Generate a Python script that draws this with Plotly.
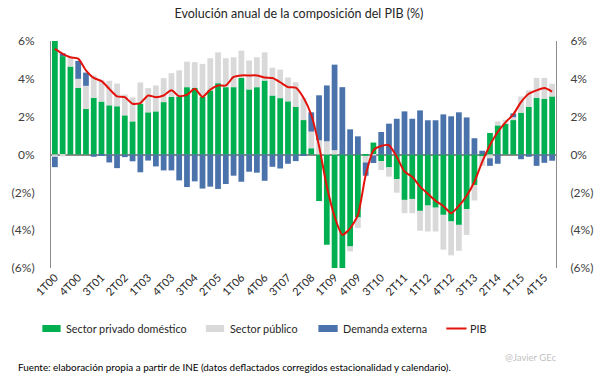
import plotly.graph_objects as go

# Quarters 1T00 .. 1T16
quarters = ["1T00","2T00","3T00","4T00","1T01","2T01","3T01","4T01","1T02","2T02","3T02","4T02",
            "1T03","2T03","3T03","4T03","1T04","2T04","3T04","4T04","1T05","2T05","3T05","4T05",
            "1T06","2T06","3T06","4T06","1T07","2T07","3T07","4T07","1T08","2T08","3T08","4T08",
            "1T09","2T09","3T09","4T09","1T10","2T10","3T10","4T10","1T11","2T11","3T11","4T11",
            "1T12","2T12","3T12","4T12","1T13","2T13","3T13","4T13","1T14","2T14","3T14","4T14",
            "1T15","2T15","3T15","4T15","1T16"]

tick_labels = ["1T00","4T00","3T01","2T02","1T03","4T03","3T04","2T05","1T06","4T06","3T07",
               "2T08","1T09","4T09","3T10","2T11","1T12","4T12","3T13","2T14","1T15","4T15"]

privado = [6.3, 5.2, 4.65, 3.52, 2.41, 3.0, 2.8, 2.6, 2.55, 2.07, 1.75, 2.68,
           2.23, 2.28, 2.77, 3.04, 3.07, 3.56, 3.53, 3.04, 3.39, 3.77, 3.56, 3.56,
           4.05, 3.44, 3.56, 3.91, 3.12, 2.98, 2.81, 2.51, 1.82, 0.33, -2.46, -4.77,
           -8.0, -7.8, -4.86, -3.33, -0.07, 0.63, -0.35, -0.68, -1.3, -2.4, -2.35, -2.98,
           -2.7, -2.81, -3.19, -3.54, -3.72, -2.88, -1.61, -0.1, 1.14, 1.54, 1.62, 1.82,
           2.21, 2.51, 3.0, 2.95, 3.07]

publico = [-0.12, -0.1, 0.5, 0.48, 1.22, 1.18, 1.15, 1.3, 1.2, 1.1, 1.27, 1.13,
           1.28, 1.37, 1.27, 1.26, 1.38, 1.35, 1.35, 1.75, 1.7, 1.63, 1.53, 1.58,
           1.44, 1.53, 1.58, 1.49, 1.47, 1.51, 1.26, 1.31, 1.18, 0.88, 0.75, 0.7,
           0.23, 0.0, -0.26, -0.56, -0.35, -0.05, -0.47, -0.49, -0.72, -0.7, -0.75, -1.05,
           -1.37, -1.26, -1.84, -1.79, -1.37, -1.37, -0.82, -0.5, -0.2, 0.21, 0.22, 0.15,
           0.86, 0.88, 1.05, 1.1, 0.67]

externa = [-0.55, 0.15, 0.0, 0.95, 0.7, -0.12, -0.05, -0.42, -0.72, -0.14, -0.36, -0.94,
           -0.32, -0.63, -0.84, -0.84, -1.37, -1.72, -1.42, -1.8, -1.7, -1.82, -1.56, -1.12,
           -1.44, -0.91, -0.96, -1.39, -0.65, -0.74, -0.49, -0.35, -0.08, 1.02, 2.38, 2.95,
           4.52, 3.56, 1.33, 0.96, -0.7, -0.4, 1.19, 1.63, 1.89, 2.28, 1.89, 2.33,
           1.81, 1.81, 2.12, 2.02, 2.23, 1.96, 0.86, 0.2, -0.4, -0.49, 0.0, 0.2,
           -0.25, -0.12, -0.6, -0.44, -0.33]

pib = [5.58, 5.32, 5.14, 5.07, 4.45, 4.05, 3.88, 3.47, 3.07, 3.03, 2.68, 2.72,
       3.12, 3.03, 3.12, 3.39, 3.08, 3.16, 3.47, 3.04, 3.43, 3.65, 3.65, 4.1,
       4.18, 4.18, 4.18, 4.07, 4.04, 3.82, 3.56, 3.53, 3.0, 2.1, 0.45, -1.68,
       -3.28, -4.25, -3.9, -3.2, -1.1, 0.22, 0.45, 0.49, -0.12, -0.9, -1.18, -1.7,
       -2.08, -2.45, -2.72, -3.1, -2.72, -2.18, -1.44, -0.39, 0.49, 1.19, 1.7, 2.12,
       2.77, 3.21, 3.39, 3.51, 3.33]

y_ticks = [6, 4, 2, 0, -2, -4, -6]
y_ticktext = ["6%", "4%", "2%", "0%", "(2%)", "(4%)", "(6%)"]

series_names = ["Sector privado doméstico", "Sector público", "Demanda externa", "PIB"]
series_colors = ["#00B050", "#D9D9D9", "#4A72AB", "#E3120B"]

FONT = "Lato"
AX_COLOR = "#8c8c8c"
W, H = 605, 378
L, R, T, B = 40, 40, 41, 110
PW, PH = W - L - R, H - T - B


def px(x):
    return (x - L) / PW


def py(y):
    return (H - B - y) / PH


fig = go.Figure()
for name, vals, col in zip(series_names[:3], [privado, publico, externa], series_colors[:3]):
    fig.add_trace(go.Bar(x=quarters, y=vals, name=name,
                         marker=dict(color=col, line=dict(width=0))))
fig.add_trace(go.Scatter(x=quarters, y=pib, name=series_names[3], mode="lines", yaxis="y2",
                         line=dict(color=series_colors[3], width=2, shape="spline", smoothing=0.6)))

yax = dict(range=[-6, 6], tickvals=y_ticks, ticktext=y_ticktext, showgrid=False,
           showline=True, linecolor=AX_COLOR, linewidth=1, ticks="",
           tickfont=dict(family=FONT, size=12, color="#404040"))

# manual legend (swatches + labels)
shapes = []
annotations = []
leg_y = 328.5
swatch_x = [(31, 50), (201, 220), (318, 338)]
text_x = [53, 224, 341, 474]
for (x0, x1), col in zip(swatch_x, series_colors[:3]):
    shapes.append(dict(type="rect", xref="paper", yref="paper",
                       x0=px(x0), x1=px(x1), y0=py(leg_y + 3.5), y1=py(leg_y - 3.5),
                       fillcolor=col, line=dict(width=0)))
shapes.append(dict(type="line", xref="paper", yref="paper",
                   x0=px(451), x1=px(472), y0=py(leg_y), y1=py(leg_y),
                   line=dict(color=series_colors[3], width=2)))
for name, tx in zip(series_names, text_x):
    annotations.append(dict(text=name, xref="paper", yref="paper", x=px(tx), y=py(leg_y),
                            xanchor="left", yanchor="middle", showarrow=False,
                            font=dict(family=FONT, size=10.8, color="#262626")))

annotations.append(dict(
    text="Fuente: elaboración propia a partir de INE (datos deflactados corregidos estacionalidad y calendario).",
    xref="paper", yref="paper", x=px(4), y=py(367), xanchor="left", yanchor="middle",
    showarrow=False, font=dict(family=FONT, size=9.9, color="#000000")))
annotations.append(dict(
    text="@Javier GEc", xref="paper", yref="paper", x=px(538), y=py(357),
    xanchor="center", yanchor="middle", showarrow=False,
    font=dict(family=FONT, size=9.5, color="#BFBFBF")))

fig.update_layout(
    width=W, height=H,
    margin=dict(l=L, r=R, t=T, b=B),
    paper_bgcolor="white", plot_bgcolor="white",
    barmode="relative", bargap=0.26,
    showlegend=False,
    font=dict(family=FONT, color="#262626"),
    title=dict(text="Evolución anual de la composición del PIB (%)",
               x=299/W, xanchor="center", y=1-14/H, yanchor="middle",
               font=dict(family=FONT, size=12.5, color="#262626")),
    xaxis=dict(type="category", range=[-0.5, 64.5], tickvals=tick_labels, ticktext=tick_labels,
               tickangle=-45, showgrid=False, showline=False, zeroline=False, ticks="",
               tickfont=dict(family=FONT, size=11, color="#262626")),
    yaxis=dict(**yax, zeroline=True, zerolinecolor=AX_COLOR, zerolinewidth=1.5,
               ticklabelstandoff=13),
    yaxis2=dict(**yax, overlaying="y", side="right", zeroline=False, ticklabelstandoff=11),
    shapes=shapes,
    annotations=annotations,
)

fig.write_html("out.html", config={"displayModeBar": False},
               post_script="document.body.style.margin='0';")
